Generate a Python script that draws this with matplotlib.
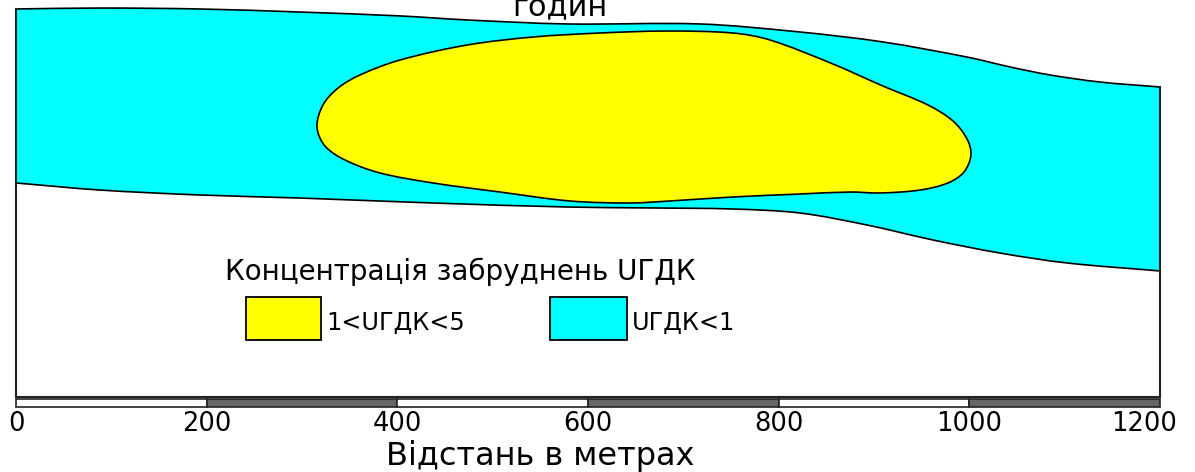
import numpy as np
import matplotlib
matplotlib.use("Agg")
import matplotlib.pyplot as plt
from matplotlib.path import Path
from matplotlib.patches import PathPatch, Rectangle

plt.rcParams['font.family'] = ['DejaVu Sans']

# ---- data (metres; y measured up from the lower frame edge) ----
band_top_x = [0, 88, 193, 298, 403, 473, 578, 717, 822, 909.5, 997.5, 1042.7, 1084.6, 1137.1, 1200]
band_top_y = [407, 408, 407, 403.8, 399.7, 395.5, 391.3, 391.3, 382.9, 372.4, 356.6, 346.2, 337.8, 330.4, 325.2]
band_bot_x = [0, 88, 193, 298, 437.4, 578, 665, 752, 822.4, 892.7, 961.9, 1032.2, 1102.4, 1200]
band_bot_y = [224.5, 217.1, 211.9, 208.7, 203.5, 199.3, 198.3, 197.2, 193.0, 180.4, 164.7, 151.0, 140.6, 132.2]

plume_x = [315.7, 322.0, 337.8, 360.8, 402.8, 473.1, 542.3, 612.6, 682.9, 752.1, 790.9,
           857.0, 909.4, 956.6, 982.9, 997.6, 1001.7, 994.4, 977.6, 948.3, 906.3,
           874.8, 822.4, 752.1, 686.0, 644.1, 581.1, 507.7, 437.4, 381.8, 345.1, 324.1]
plume_y = [283.2, 306.3, 324.1, 337.8, 353.5, 369.2, 377.6, 381.8, 383.9, 381.8, 374.5,
           349.3, 326.2, 306.3, 289.5, 270.6, 253.8, 236.0, 224.5, 217.1, 214.0,
           215.0, 212.9, 209.8, 205.6, 203.5, 205.6, 215.0, 224.5, 235.0, 248.6, 263.3]

scale_ticks = [0, 200, 400, 600, 800, 1000, 1200]
scale_labels = ['0', '200', '400', '600', '800', '1000', '1200']

title_text = 'годин'
xlabel_text = 'Відстань в метрах'
legend_title = 'Концентрація забруднень UГДК'
legend_labels = ['1<UГДК<5', 'UГДК<1']
legend_colors = ['#ffff00', '#00ffff']


def smooth_segments(xs, ys, closed=False):
    """Chord-length Catmull-Rom -> cubic Bezier vertices and codes."""
    P = np.column_stack([xs, ys]).astype(float)
    n = len(P)
    verts, codes = [P[0]], [Path.MOVETO]
    nseg = n if closed else n - 1

    def tangent(i):
        if not closed and i == 0:
            t = P[1] - P[0]
            return t, np.linalg.norm(t)
        if not closed and i == n - 1:
            t = P[-1] - P[-2]
            return t, np.linalg.norm(t)
        a, b, c = P[(i - 1) % n], P[i % n], P[(i + 1) % n]
        return (c - a), np.linalg.norm(b - a) + np.linalg.norm(c - b)

    for i in range(nseg):
        p1 = P[i % n]
        p2 = P[(i + 1) % n]
        d = np.linalg.norm(p2 - p1)
        t1, l1 = tangent(i)
        t2, l2 = tangent((i + 1) % n if closed else i + 1)
        c1 = p1 + t1 * d / (3.0 * l1)
        c2 = p2 - t2 * d / (3.0 * l2)
        verts += [c1, c2, p2]
        codes += [Path.CURVE4] * 3
    return verts, codes


s = 1144 / 1200.0  # px per metre
fig = plt.figure(figsize=(11.95, 4.72), dpi=100)
ax = fig.add_axes([0, 0, 1, 1])
ax.set_xlim(-16 / s, 1179 / s)
ax.set_ylim(-75 / s, 397 / s)
ax.axis('off')

# cyan band
tv, tc = smooth_segments(band_top_x, band_top_y)
bv, bc = smooth_segments(band_bot_x[::-1], band_bot_y[::-1])
verts = tv + bv + [tv[0]]
codes = tc + [Path.LINETO] + bc[1:] + [Path.CLOSEPOLY]
ax.add_patch(PathPatch(Path(verts, codes), facecolor='#00ffff', edgecolor='black',
                       lw=1.2, zorder=2))

# yellow plume
pv, pc = smooth_segments(plume_x, plume_y, closed=True)
pv.append(pv[0]); pc.append(Path.CLOSEPOLY)
ax.add_patch(PathPatch(Path(pv, pc), facecolor='#ffff00', edgecolor='black',
                       lw=1.2, zorder=3))

# frame
ax.plot([band_top_x[0], band_top_x[0]], [band_top_y[0], 0], color='#222222', lw=1.5, zorder=4)
ax.plot([band_top_x[-1], band_top_x[-1]], [band_top_y[-1], 0], color='#222222', lw=1.5, zorder=4)
ax.plot([scale_ticks[0], scale_ticks[-1]], [0, 0], color='#222222', lw=1.5, zorder=4)

# scale bar
for i in range(len(scale_ticks) - 1):
    x0, x1 = scale_ticks[i], scale_ticks[i + 1]
    ax.add_patch(Rectangle((x0, -10.5), x1 - x0, 8.4,
                           facecolor='white' if i % 2 == 0 else '#666666',
                           edgecolor='#222222', lw=1.2, zorder=4))
for t, lab in zip(scale_ticks, scale_labels):
    ha = 'center'
    xx = t
    if t == scale_ticks[-1]:
        xx = t + 18
        ha = 'right'
    ax.text(xx, -36, lab, ha=ha, va='baseline', fontsize=18.5, color='black')

ax.text(540 / s - 16 / s, -71.5, xlabel_text, ha='center', va='baseline', fontsize=23)
ax.text(560 / s - 16 / s, 400.5, title_text, ha='center', va='baseline', fontsize=22)

# legend
ax.text(219, 123, legend_title, ha='left', va='baseline', fontsize=20)
box_x = [241, 560]
box_w = [79, 81]
lab_x = [326, 646]
for bx, bw, lx, lab, col in zip(box_x, box_w, lab_x, legend_labels, legend_colors):
    ax.add_patch(Rectangle((bx, 60), bw, 45, facecolor=col, edgecolor='black', lw=1.3, zorder=5))
    ax.text(lx, 70, lab, ha='left', va='baseline', fontsize=17.3)

fig.savefig('out.png', dpi=100)
